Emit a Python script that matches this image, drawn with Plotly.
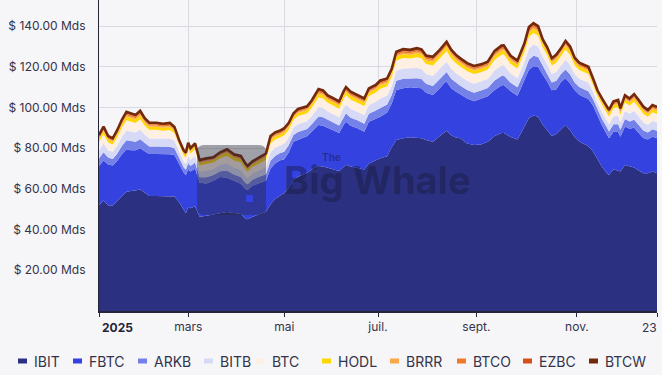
import plotly.graph_objects as go

# ---------------- data (US$ bn, AUM of spot bitcoin ETFs, 2025) ----------------
dates = [
    "2025-01-02", "2025-01-06", "2025-01-08", "2025-01-13", "2025-01-15", "2025-01-17", "2025-01-22", "2025-01-24", "2025-01-28", "2025-01-30",
    "2025-02-03", "2025-02-05", "2025-02-10", "2025-02-13", "2025-02-19", "2025-02-21", "2025-02-25", "2025-02-27", "2025-02-28",
    "2025-03-03", "2025-03-04", "2025-03-06", "2025-03-10", "2025-03-13", "2025-03-18", "2025-03-21", "2025-03-26", "2025-03-31",
    "2025-04-03", "2025-04-07", "2025-04-08", "2025-04-10", "2025-04-14", "2025-04-16", "2025-04-21", "2025-04-23", "2025-04-25", "2025-04-29",
    "2025-05-01", "2025-05-05", "2025-05-07", "2025-05-09", "2025-05-13", "2025-05-15", "2025-05-19", "2025-05-21", "2025-05-22", "2025-05-27", "2025-05-29",
    "2025-06-02", "2025-06-05", "2025-06-09", "2025-06-10", "2025-06-12", "2025-06-17", "2025-06-23", "2025-06-25", "2025-06-30",
    "2025-07-02", "2025-07-08", "2025-07-10", "2025-07-14", "2025-07-17", "2025-07-22", "2025-07-25", "2025-07-29", "2025-07-31",
    "2025-08-05", "2025-08-08", "2025-08-12", "2025-08-13", "2025-08-15", "2025-08-19", "2025-08-21", "2025-08-26", "2025-08-29",
    "2025-09-04", "2025-09-09", "2025-09-12", "2025-09-17", "2025-09-18", "2025-09-23", "2025-09-26",
    "2025-10-01", "2025-10-03", "2025-10-07", "2025-10-09", "2025-10-13", "2025-10-15", "2025-10-17", "2025-10-21", "2025-10-23", "2025-10-27", "2025-10-29", "2025-10-31",
    "2025-11-04", "2025-11-06", "2025-11-10", "2025-11-12", "2025-11-14", "2025-11-18", "2025-11-20", "2025-11-21", "2025-11-25", "2025-11-28",
    "2025-12-01", "2025-12-03", "2025-12-05", "2025-12-09", "2025-12-11", "2025-12-15", "2025-12-17", "2025-12-19", "2025-12-23",
]

ibit = [
    52.1, 54.3, 52.0, 51.8, 54.0, 56.5, 58.6, 59.0, 59.2, 59.8,
    58.0, 56.5, 56.5, 56.5, 56.5, 56.2, 53.5, 50.0, 48.0,
    51.0, 50.5, 51.5, 46.3, 46.8, 47.5, 48.0, 48.7, 48.2,
    47.7, 45.5, 45.1, 46.2, 47.0, 47.8, 48.8, 52.5, 55.0, 56.5,
    58.0, 60.5, 64.5, 66.0, 67.0, 67.8, 69.5, 70.5, 71.2, 71.0, 70.5,
    69.8, 68.8, 70.8, 71.8, 71.0, 70.3, 69.5, 72.5, 74.0,
    75.0, 76.0, 80.5, 84.0, 84.9, 85.4, 85.2, 84.9, 84.0,
    83.2, 86.0, 88.0, 88.6, 86.3, 85.2, 84.9, 82.3, 81.6,
    81.8, 83.2, 86.0, 87.5, 87.5, 85.5, 84.2,
    90.5, 94.8, 96.0, 95.5, 91.6, 88.5, 86.0, 87.0, 89.0, 91.4, 88.8, 85.5,
    83.3, 82.0, 81.0, 78.5, 74.6, 70.8, 67.8, 66.8, 69.6, 68.8,
    68.5, 71.7, 71.2, 70.5, 69.0, 67.7, 67.7, 68.5, 67.7,
]
fbtc = [
    19.2, 19.7, 20.0, 19.7, 19.8, 20.5, 20.9, 20.0, 19.8, 20.2,
    20.5, 20.6, 20.6, 20.6, 20.5, 20.5, 19.0, 18.0, 18.8,
    18.5, 18.0, 18.5, 16.7, 15.9, 16.5, 17.8, 16.8, 15.8,
    14.8, 14.5, 14.4, 15.3, 15.5, 15.4, 15.2, 17.5, 17.5, 17.5,
    16.5, 17.5, 18.7, 18.3, 18.0, 18.0, 18.5, 19.5, 20.2, 20.0, 19.5,
    19.2, 18.7, 20.7, 21.2, 20.0, 19.5, 18.6, 20.5, 20.5,
    20.5, 21.5, 21.5, 24.6, 24.6, 24.5, 24.4, 24.5, 23.2,
    22.9, 23.5, 24.0, 24.1, 23.2, 22.6, 21.6, 22.1, 21.4,
    22.4, 22.3, 22.6, 23.3, 23.5, 22.5, 21.5,
    22.5, 23.7, 24.3, 24.5, 24.6, 24.3, 22.5, 22.0, 23.5, 22.9, 23.0, 23.0,
    22.9, 23.2, 23.2, 22.5, 21.4, 20.2, 19.2, 18.1, 18.5, 19.2,
    17.1, 18.9, 18.3, 19.5, 18.5, 17.3, 16.5, 17.1, 17.2,
]
arkb = [
    3.6, 4.0, 3.4, 3.2, 3.6, 4.1, 4.4, 4.4, 4.2, 4.4,
    3.9, 3.7, 3.7, 3.6, 3.7, 3.3, 2.8, 2.6, 2.6,
    3.2, 2.8, 3.0, 2.7, 3.0, 2.8, 2.9, 3.4, 3.1,
    3.3, 3.0, 2.8, 2.9, 3.0, 3.0, 3.2, 3.8, 3.7, 3.5,
    3.7, 3.5, 3.3, 3.6, 3.6, 3.6, 3.7, 4.2, 4.2, 4.2, 3.8,
    3.8, 3.7, 4.0, 4.1, 4.0, 3.9, 3.9, 3.9, 4.0,
    4.3, 4.0, 4.1, 4.5, 4.6, 4.4, 4.7, 4.6, 4.4,
    4.5, 4.5, 4.6, 4.7, 4.6, 4.4, 4.2, 4.2, 4.2,
    4.1, 4.1, 4.6, 4.7, 4.7, 4.2, 4.2,
    4.4, 5.0, 5.1, 4.8, 4.2, 4.0, 3.8, 4.1, 4.0, 4.4, 4.4, 3.8,
    3.8, 3.8, 3.8, 3.2, 3.0, 3.2, 3.4, 3.3, 3.6, 3.8,
    3.4, 3.7, 3.6, 4.0, 3.9, 3.7, 3.5, 3.7, 3.7,
]
bitb = [
    4.0, 4.3, 3.6, 3.5, 4.0, 4.4, 4.8, 4.7, 4.5, 4.8,
    4.2, 4.0, 4.0, 3.9, 4.0, 3.6, 3.0, 2.9, 2.9,
    3.4, 3.0, 3.2, 2.9, 3.2, 3.0, 3.2, 3.6, 3.4,
    3.6, 3.3, 3.1, 3.1, 3.2, 3.3, 3.5, 4.2, 4.0, 3.8,
    4.0, 3.8, 3.6, 3.9, 3.9, 3.8, 4.0, 4.5, 4.6, 4.5, 4.2,
    4.1, 4.0, 4.3, 4.4, 4.4, 4.3, 4.3, 4.3, 4.3,
    4.6, 4.4, 4.4, 4.9, 5.0, 4.8, 5.1, 5.0, 4.8,
    4.9, 4.9, 4.9, 5.1, 4.9, 4.7, 4.6, 4.5, 4.5,
    4.4, 4.4, 5.0, 5.1, 5.1, 4.5, 4.5,
    4.8, 5.5, 5.5, 5.2, 4.5, 4.4, 4.1, 4.4, 4.3, 4.8, 4.7, 4.2,
    4.1, 4.2, 4.1, 3.5, 3.2, 3.5, 3.6, 3.6, 3.9, 4.1,
    3.6, 4.0, 3.9, 4.3, 4.2, 4.0, 3.8, 4.1, 4.0,
]
btc_mini = [
    4.1, 4.5, 3.8, 3.6, 4.1, 4.6, 5.0, 4.9, 4.7, 5.0,
    4.4, 4.2, 4.2, 4.0, 4.2, 3.7, 3.1, 3.0, 3.0,
    3.6, 3.1, 3.3, 3.0, 3.3, 3.1, 3.3, 3.8, 3.5,
    3.7, 3.4, 3.2, 3.2, 3.3, 3.4, 3.6, 4.3, 4.1, 3.9,
    4.1, 3.9, 3.8, 4.0, 4.0, 4.0, 4.2, 4.7, 4.8, 4.7, 4.3,
    4.3, 4.2, 4.5, 4.6, 4.5, 4.4, 4.4, 4.4, 4.5,
    4.8, 4.5, 4.6, 5.1, 5.2, 5.0, 5.3, 5.2, 4.9,
    5.1, 5.1, 5.1, 5.3, 5.1, 4.9, 4.8, 4.7, 4.7,
    4.6, 4.6, 5.2, 5.3, 5.3, 4.7, 4.7,
    5.0, 5.7, 5.7, 5.4, 4.7, 4.5, 4.2, 4.6, 4.5, 5.0, 4.9, 4.3,
    4.3, 4.3, 4.3, 3.6, 3.3, 3.6, 3.8, 3.8, 4.0, 4.2,
    3.8, 4.2, 4.0, 4.5, 4.4, 4.2, 3.9, 4.2, 4.2,
]
hodl = [
    1.52, 1.65, 1.40, 1.33, 1.52, 1.70, 1.84, 1.82, 1.73, 1.84,
    1.62, 1.54, 1.54, 1.49, 1.55, 1.38, 1.15, 1.10, 1.10,
    1.32, 1.15, 1.24, 1.12, 1.23, 1.15, 1.22, 1.40, 1.30,
    1.37, 1.25, 1.18, 1.20, 1.23, 1.26, 1.35, 1.60, 1.53, 1.45,
    1.53, 1.45, 1.39, 1.50, 1.50, 1.48, 1.55, 1.75, 1.77, 1.75, 1.60,
    1.58, 1.55, 1.65, 1.69, 1.68, 1.64, 1.64, 1.64, 1.65,
    1.78, 1.68, 1.70, 1.88, 1.91, 1.84, 1.95, 1.91, 1.83,
    1.89, 1.88, 1.90, 1.97, 1.90, 1.82, 1.77, 1.75, 1.75,
    1.71, 1.70, 1.93, 1.97, 1.95, 1.75, 1.73,
    1.85, 2.10, 2.12, 2.00, 1.73, 1.68, 1.57, 1.70, 1.65, 1.85, 1.82, 1.60,
    1.58, 1.60, 1.58, 1.35, 1.23, 1.35, 1.40, 1.39, 1.49, 1.57,
    1.40, 1.55, 1.50, 1.66, 1.62, 1.55, 1.46, 1.56, 1.55,
]
brrr = [
    .53, .58, .49, .47, .53, .60, .64, .64, .61, .64,
    .57, .54, .54, .52, .54, .48, .40, .39, .39,
    .46, .40, .43, .39, .43, .40, .43, .49, .46,
    .48, .44, .41, .42, .43, .44, .47, .56, .54, .51,
    .54, .51, .49, .53, .53, .52, .54, .61, .62, .61, .56,
    .55, .54, .58, .59, .59, .57, .57, .57, .58,
    .62, .59, .60, .66, .67, .64, .68, .67, .64,
    .66, .66, .67, .69, .67, .64, .62, .61, .61,
    .60, .60, .68, .69, .68, .61, .61,
    .65, .74, .74, .70, .61, .59, .55, .60, .58, .65, .64, .56,
    .55, .56, .55, .47, .43, .47, .49, .49, .52, .55,
    .49, .54, .53, .58, .57, .54, .51, .55, .54,
]
btco = [
    .61, .66, .56, .53, .61, .68, .74, .73, .69, .74,
    .65, .62, .62, .60, .62, .55, .46, .44, .44,
    .53, .46, .50, .45, .49, .46, .49, .56, .52,
    .55, .50, .47, .48, .49, .50, .54, .64, .61, .58,
    .61, .58, .56, .60, .60, .59, .62, .70, .71, .70, .64,
    .63, .62, .66, .68, .67, .66, .66, .66, .66,
    .71, .67, .68, .75, .76, .74, .78, .76, .73,
    .76, .75, .76, .79, .76, .73, .71, .70, .70,
    .68, .68, .77, .79, .78, .70, .69,
    .74, .84, .85, .80, .69, .67, .63, .68, .66, .74, .73, .64,
    .63, .64, .63, .54, .49, .54, .56, .56, .60, .63,
    .56, .62, .60, .66, .65, .62, .58, .62, .62,
]
ezbc = [
    .50, .55, .46, .44, .50, .56, .60, .60, .57, .60,
    .53, .51, .51, .49, .51, .45, .38, .36, .36,
    .43, .38, .41, .37, .40, .38, .40, .46, .43,
    .45, .41, .39, .40, .41, .42, .45, .53, .51, .48,
    .51, .48, .46, .50, .50, .49, .51, .58, .58, .58, .53,
    .52, .51, .54, .56, .55, .54, .54, .54, .55,
    .59, .55, .56, .62, .63, .61, .64, .63, .60,
    .62, .62, .63, .65, .63, .60, .58, .58, .58,
    .56, .56, .64, .65, .64, .58, .57,
    .61, .69, .70, .66, .57, .55, .52, .56, .54, .61, .60, .53,
    .52, .53, .52, .45, .41, .45, .46, .46, .49, .52,
    .46, .51, .50, .55, .53, .51, .48, .51, .51,
]
btcw = [
    .30, .33, .28, .27, .30, .34, .37, .36, .35, .37,
    .32, .31, .31, .30, .31, .28, .23, .22, .22,
    .26, .23, .25, .22, .25, .23, .24, .28, .26,
    .27, .25, .24, .24, .25, .25, .27, .32, .31, .29,
    .31, .29, .28, .30, .30, .30, .31, .35, .35, .35, .32,
    .32, .31, .33, .34, .34, .33, .33, .33, .33,
    .36, .34, .34, .38, .38, .37, .39, .38, .37,
    .38, .38, .38, .39, .38, .36, .35, .35, .35,
    .34, .34, .39, .39, .39, .35, .35,
    .37, .42, .42, .40, .35, .34, .31, .34, .33, .37, .36, .32,
    .32, .32, .32, .27, .25, .27, .28, .28, .30, .31,
    .28, .31, .30, .33, .32, .31, .29, .31, .31,
]

series_names = ["IBIT", "FBTC", "ARKB", "BITB", "BTC", "HODL", "BRRR", "BTCO", "EZBC", "BTCW"]
series_values = [ibit, fbtc, arkb, bitb, btc_mini, hodl, brrr, btco, ezbc, btcw]

# axis structure
market_holidays = ["2025-01-09", "2025-01-20", "2025-02-17", "2025-04-18", "2025-05-26",
                   "2025-06-19", "2025-07-04", "2025-09-01", "2025-11-27"]
x_tick_dates = ["2025-01-02", "2025-03-03", "2025-05-01", "2025-07-01", "2025-09-02", "2025-11-03", "2025-12-23"]
x_tick_text = ["", "mars", "mai", "juil.", "sept.", "nov.", ""]
y_tick_vals = [20, 40, 60, 80, 100, 120, 140]

# ---------------- styling ----------------
colors = ["#2b3180", "#3443e0", "#7481e8", "#d6daf6", "#fdf0e3", "#ffd600",
          "#f9a846", "#ee7a28", "#d4521a", "#74290a"]
BG = "#f6f6f9"
TXT = "#33334a"
FONT = "Inter"

W, H = 662, 375
L, R, T, B = 99, 5, 0, 64
PW, PH = W - L - R, H - T - B


def px(xp):
    return (xp - L) / PW


def py(yp):
    return (T + PH - yp) / PH


fig = go.Figure()
for name, vals, col in zip(series_names, series_values, colors):
    top = name == "BTCW"
    fig.add_trace(go.Scatter(
        x=dates, y=vals, name=name, stackgroup="etf", mode="lines",
        line=dict(color=col, width=2.6 if top else 0, shape="linear"),
        fillcolor=col, showlegend=False, hoverinfo="skip",
    ))

shapes = []
annotations = []


def rounded_rect(x0, y0, x1, y1, r):
    X0, X1 = px(x0), px(x1)
    Y0, Y1 = py(y1), py(y0)
    rx, ry = r / PW, r / PH
    return (f"M {X0+rx},{Y0} L {X1-rx},{Y0} Q {X1},{Y0} {X1},{Y0+ry} "
            f"L {X1},{Y1-ry} Q {X1},{Y1} {X1-rx},{Y1} L {X0+rx},{Y1} "
            f"Q {X0},{Y1} {X0},{Y1-ry} L {X0},{Y0+ry} Q {X0},{Y0} {X0+rx},{Y0} Z")


# watermark (logo block + wordmark)
shapes.append(dict(type="path", xref="paper", yref="paper", layer="above",
                   path=rounded_rect(197, 145, 266, 215, 7),
                   fillcolor="rgba(40,40,58,0.42)", line=dict(width=0)))
shapes.append(dict(type="rect", xref="paper", yref="paper", layer="above",
                   x0=px(246), x1=px(253), y0=py(202), y1=py(195),
                   fillcolor="#3443e0", line=dict(width=0)))
annotations.append(dict(text="<b>Big Whale</b>", xref="paper", yref="paper",
                        x=px(282), y=py(180), xanchor="left", yanchor="middle",
                        showarrow=False, font=dict(family=FONT, size=38, color="rgba(24,24,62,0.45)")))
annotations.append(dict(text="<b>The</b>", xref="paper", yref="paper",
                        x=px(331), y=py(157), xanchor="center", yanchor="middle",
                        showarrow=False, font=dict(family=FONT, size=10, color="rgba(24,24,62,0.5)")))

# edge x tick labels
annotations.append(dict(text="<b>2025</b>", xref="paper", yref="paper", x=px(100), y=py(327),
                        xanchor="left", yanchor="middle", showarrow=False,
                        font=dict(family=FONT, size=12, color="#24243a")))
annotations.append(dict(text="23", xref="paper", yref="paper", x=px(659), y=py(327),
                        xanchor="right", yanchor="middle", showarrow=False,
                        font=dict(family=FONT, size=12, color=TXT)))

# legend (bar symbol + label)
legend_sym_x = [18, 73, 138, 204, 256, 322, 390, 457, 523, 589]
legend_y = 361
for name, col, sx in zip(series_names, colors, legend_sym_x):
    shapes.append(dict(type="rect", xref="paper", yref="paper", x0=px(sx), x1=px(sx + 9),
                       y0=py(legend_y + 2.5), y1=py(legend_y - 2.5), fillcolor=col, line=dict(width=0)))
    annotations.append(dict(text=name, xref="paper", yref="paper", x=px(sx + 14), y=py(legend_y),
                            xanchor="left", yanchor="middle", showarrow=False,
                            font=dict(family=FONT, size=14, color=TXT)))

y_tick_text = [f"$ {v:.2f} Mds" for v in y_tick_vals]

fig.update_layout(
    width=W, height=H,
    margin=dict(l=L, r=R, t=T, b=B, pad=0, autoexpand=False),
    paper_bgcolor=BG, plot_bgcolor=BG,
    font=dict(family=FONT, size=12, color=TXT),
    hovermode=False,
    shapes=shapes, annotations=annotations,
    xaxis=dict(
        type="date", automargin=False,
        range=[dates[0], dates[-1]],
        rangebreaks=[dict(bounds=["sat", "mon"]), dict(values=market_holidays)],
        tickmode="array", tickvals=x_tick_dates, ticktext=x_tick_text,
        ticks="outside", ticklen=4, tickwidth=1, tickcolor="#24243a",
        showgrid=True, gridcolor="#d9d9e1", gridwidth=1,
        showline=True, linecolor="#24243a", linewidth=1.5,
        tickfont=dict(family=FONT, size=12, color=TXT),
        zeroline=False, fixedrange=True,
    ),
    yaxis=dict(
        automargin=False,
        range=[0, 152.8],
        tickmode="array", tickvals=y_tick_vals, ticktext=y_tick_text,
        showgrid=True, gridcolor="#d9d9e1", gridwidth=1,
        showline=True, linecolor="#24243a", linewidth=1.2,
        ticks="", ticklabelstandoff=10,
        tickfont=dict(family=FONT, size=12, color=TXT),
        zeroline=False, fixedrange=True,
    ),
)

fig.write_html(
    "out.html",
    config={"displayModeBar": False},
    post_script="document.body.style.margin='0';document.body.style.background='#f6f6f9';",
)
